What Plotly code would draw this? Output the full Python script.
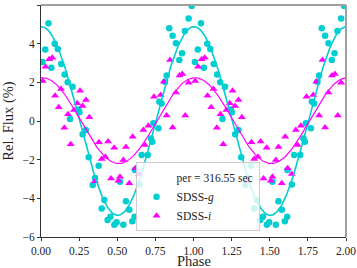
import numpy as np
import plotly.graph_objects as go

# Phase-folded data, one cycle (shown twice: phase and phase+1)
g_phase = [0.009, 0.028, 0.049, 0.068, 0.09, 0.11, 0.133, 0.155, 0.175, 0.19, 0.207,
           0.245, 0.252, 0.273, 0.294, 0.313, 0.339, 0.354, 0.378, 0.398, 0.415,
           0.437, 0.455, 0.481, 0.496, 0.518, 0.54, 0.557, 0.579, 0.599, 0.614,
           0.616, 0.645, 0.66, 0.70, 0.721, 0.73, 0.737, 0.77, 0.776, 0.791,
           0.813, 0.824, 0.841, 0.863, 0.885, 0.907, 0.925, 0.944, 0.968, 0.988]
g_flux = [3.05, 3.7, 5.05, 2.76, 4.0, 3.72, 2.95, 2.4, 2.0, 0.1, 1.77,
          0.6, 0.45, -0.68, -0.47, -1.88, -3.31, -2.95, -2.31, -4.52, -4.09,
          -5.12, -4.95, -5.36, -5.24, -3.14, -5.36, -4.15, -4.59, -5.19, -4.95,
          -2.53, -3.29, -1.76, -1.76, -0.9, -1.07, -0.12, -0.38, 1.0, 0.91,
          2.03, 2.35, 4.8, 4.41, 4.02, 3.16, 3.5, 4.66, 5.3, 5.95]

i_phase = [0.011, 0.03, 0.054, 0.074, 0.092, 0.116, 0.131, 0.153, 0.177, 0.195,
           0.216, 0.238, 0.256, 0.273, 0.295, 0.317, 0.354, 0.38, 0.398, 0.422,
           0.44, 0.459, 0.48, 0.507, 0.518, 0.54, 0.557, 0.579, 0.601, 0.618,
           0.645, 0.671, 0.682, 0.704, 0.741, 0.785, 0.805, 0.824, 0.846, 0.863,
           0.885, 0.908, 0.927, 0.946, 0.968]
i_flux = [2.07, 2.81, 3.2, 3.27, 1.31, 0.71, 1.66, -0.35, 0.35, -1.2,
          0.57, 0.92, 1.57, 0.78, 1.09, 0.19, -3.12, -1.1, -1.97, -1.85,
          -1.06, -2.97, -1.38, -3.09, -2.88, -2.02, -1.34, -3.22, -0.82, -2.45,
          -2.74, -0.47, -1.24, -0.24, 1.26, 1.34, 2.03, 0.29, 3.16, -0.33,
          1.48, 2.35, 2.43, 0.29, 1.98]

# Sinusoid fit parameters (amplitude %, phase of maximum, offset %)
g_fit = dict(amp=4.88, phi0=0.003, off=0.0)
i_fit = dict(amp=2.22, phi0=0.01, off=0.02)
period_label = "per = 316.55 sec"

x_ticks = [0, 0.25, 0.5, 0.75, 1.0, 1.25, 1.5, 1.75, 2.0]
x_ticklabels = ["0.00", "0.25", "0.50", "0.75", "1.00", "1.25", "1.50", "1.75", "2.00"]
y_ticks = [-6, -4, -2, 0, 2, 4, 6]

CYAN = "#00CED1"
MAG = "#FF00FF"
FONT = "Liberation Serif"


def fold2(ph, fl):
    ph = np.asarray(ph)
    fl = np.asarray(fl)
    return np.concatenate([ph, ph + 1]), np.concatenate([fl, fl])


def model(p, x):
    return p["off"] + p["amp"] * np.cos(2 * np.pi * (x - p["phi0"]))


xm = np.linspace(0, 2, 400)

fig = go.Figure()
fig.add_trace(go.Scatter(x=[None], y=[None], mode="lines", name=period_label,
                         line=dict(color="rgba(0,0,0,0)", width=0)))
gx, gy = fold2(g_phase, g_flux)
fig.add_trace(go.Scatter(x=gx, y=gy, mode="markers", name="SDSS-<i>g</i>",
                         marker=dict(symbol="circle", size=6.5, color=CYAN)))
ix, iy = fold2(i_phase, i_flux)
fig.add_trace(go.Scatter(x=ix, y=iy, mode="markers", name="SDSS-<i>i</i>",
                         marker=dict(symbol="triangle-up", size=7, color=MAG)))
fig.add_trace(go.Scatter(x=xm, y=model(g_fit, xm), mode="lines", showlegend=False,
                         line=dict(color=CYAN, width=1.6)))
fig.add_trace(go.Scatter(x=xm, y=model(i_fit, xm), mode="lines", showlegend=False,
                         line=dict(color=MAG, width=1.2)))

# top/right gray spines
fig.add_shape(type="line", xref="x domain", yref="y domain", x0=0, x1=1, y0=1, y1=1,
              line=dict(color="#a0a0a0", width=2))
fig.add_shape(type="line", xref="x domain", yref="y domain", x0=1, x1=1, y0=0, y1=1,
              line=dict(color="#a0a0a0", width=2))

# x-axis title as annotation (placed just below tick labels)
fig.add_annotation(text="Phase", xref="paper", yref="paper", x=0.5, y=0,
                   xanchor="center", yanchor="top", yshift=-14, showarrow=False,
                   font=dict(family=FONT, size=14.5, color="#222222"))

fig.update_layout(
    width=357, height=268,
    margin=dict(l=41, r=11, t=5, b=31, autoexpand=False),
    paper_bgcolor="white", plot_bgcolor="white",
    font=dict(family=FONT, size=12, color="#222222"),
    legend=dict(x=0.31, y=0.025, xanchor="left", yanchor="bottom",
                bgcolor="rgba(255,255,255,0.8)", bordercolor="#cccccc", borderwidth=1,
                font=dict(family=FONT, size=11.5), itemwidth=30, tracegroupgap=0),
    xaxis=dict(range=[0, 2], tickvals=x_ticks, ticktext=x_ticklabels, showgrid=False,
               zeroline=False, showline=True, linecolor="#333333", linewidth=1,
               ticks="outside", ticklen=3, tickcolor="#333333", automargin=False,
               tickfont=dict(size=11.5)),
    yaxis=dict(range=[-6, 6], tickvals=y_ticks, showgrid=False, zeroline=False,
               showline=True, linecolor="#333333", linewidth=1,
               ticks="outside", ticklen=3, tickcolor="#333333", automargin=False,
               tickfont=dict(size=11.5),
               title=dict(text="Rel. Flux (%)", font=dict(size=14.5), standoff=5)),
)

fig.write_html("out.html", config={"displayModeBar": False},
               post_script="document.body.style.margin='0';")
